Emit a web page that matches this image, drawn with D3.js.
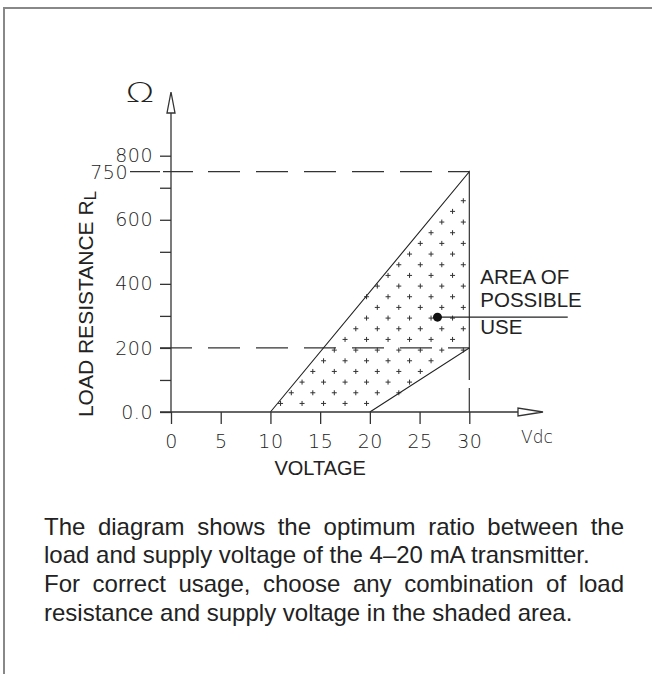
<!DOCTYPE html>
<html>
<head>
<meta charset="utf-8">
<script src="https://cdn.jsdelivr.net/npm/d3@7"></script>
<style>
  body { margin: 0; background: #fff; }
  svg { display: block; }
  .tick text { font-family: "DejaVu Sans", sans-serif; font-size: 19px; font-weight: 200; fill: #222; letter-spacing: 0.5px; }
  .tick line { stroke: #333; stroke-width: 1.3; }
</style>
</head>
<body>
<svg id="chart" width="652" height="674"></svg>
<script>
// values
var voltTicks = [0, 5, 10, 15, 20, 25, 30];
var loadTicks = [0, 100, 200, 300, 400, 500, 600, 700, 800];
var loadLabels = {0: "0.0", 200: "200", 400: "400", 600: "600", 800: "800"};
var areaVolt = [10, 30, 30, 20];
var areaLoad = [0, 750, 200, 0];
var maxLoad = 750, kneeLoad = 200, maxVolt = 30;
var notePoint = [26.8, 296];
var noteLines = ["AREA OF", "POSSIBLE", "USE"];
var textLines = [
  "The diagram shows the optimum ratio between the",
  "load and supply voltage of the 4\u201320 mA transmitter.",
  "For correct usage, choose any combination of load",
  "resistance and supply voltage in the shaded area."
];
var justified = [true, false, true, false];

var svg = d3.select("#chart");

var x = d3.scaleLinear().domain([0, 30]).range([171, 469.3]);
var y = d3.scaleLinear().domain([0, 800]).range([412, 155.7]);

// frame
svg.append("line").attr("x1", 3).attr("x2", 652).attr("y1", 8).attr("y2", 8)
   .attr("stroke", "#888").attr("stroke-width", 2);
svg.append("line").attr("x1", 4).attr("x2", 4).attr("y1", 7).attr("y2", 674)
   .attr("stroke", "#888").attr("stroke-width", 2);

// crosses inside the area
var poly = areaVolt.map(function(v, i){ return [x(v), y(areaLoad[i])]; });
var gx0 = x(maxVolt) - 6, gy0 = y(maxLoad) + 29, gdx = 10.75, gdy = 10.67;
var crosses = [];
for (var m = 0; gy0 + m * gdy < y(0); m++) {
  for (var k = 0; gx0 - k * gdx > x(0); k++) {
    if ((k + m) % 2 !== 0) continue;
    var p = [gx0 - k * gdx, gy0 + m * gdy];
    if (d3.polygonContains(poly, p)) crosses.push(p);
  }
}
svg.append("g").selectAll("path")
   .data(crosses)
   .enter()
   .append("path")
   .attr("d", function(d){ return "M" + (d[0]-2.5) + "," + d[1] + "h5M" + d[0] + "," + (d[1]-2.5) + "v5"; })
   .attr("stroke", "#333")
   .attr("stroke-width", 1);

// dashed guide lines
svg.append("line")
   .attr("x1", 130).attr("x2", x(maxVolt))
   .attr("y1", y(maxLoad)).attr("y2", y(maxLoad))
   .attr("stroke", "#333").attr("stroke-width", 1.2)
   .attr("stroke-dasharray", "30,3,30,15,32,16,32,16,32,16,32,16,32,16,32,16");
svg.append("text")
   .attr("x", 128).attr("y", y(maxLoad)).attr("dy", "0.36em")
   .attr("text-anchor", "end")
   .style("font-family", "DejaVu Sans, sans-serif").style("font-size", "19px")
   .style("font-weight", 200).style("fill", "#222").style("letter-spacing", "0.5px")
   .text(maxLoad);
svg.append("line")
   .attr("x1", x(0) - 11).attr("x2", x(maxVolt))
   .attr("y1", y(kneeLoad)).attr("y2", y(kneeLoad))
   .attr("stroke", "#333").attr("stroke-width", 1.2)
   .attr("stroke-dasharray", "32,16");
svg.append("line")
   .attr("x1", x(maxVolt)).attr("x2", x(maxVolt))
   .attr("y1", y(kneeLoad)).attr("y2", y(0))
   .attr("stroke", "#333").attr("stroke-width", 1.2)
   .attr("stroke-dasharray", "32,8");

// area outline
svg.append("path")
   .attr("d", d3.line()(poly))
   .attr("fill", "none")
   .attr("stroke", "#222")
   .attr("stroke-width", 1.1);

// axes
var yAxis = svg.append("g")
   .attr("transform", "translate(" + x(0) + ",0)")
   .call(d3.axisLeft(y).tickValues(loadTicks).tickSize(11).tickPadding(7)
         .tickFormat(function(d){ return loadLabels[d] || ""; }));
yAxis.select(".domain").remove();

var xAxis = svg.append("g")
   .attr("transform", "translate(0," + y(0) + ")")
   .call(d3.axisBottom(x).tickValues(voltTicks).tickSize(12).tickPadding(11));
xAxis.select(".domain").remove();

svg.append("line").attr("x1", x(0)).attr("x2", x(0)).attr("y1", 113).attr("y2", y(0))
   .attr("stroke", "#333").attr("stroke-width", 1.3);
svg.append("path")
   .attr("d", "M" + x(0) + ",92L" + (x(0)+4) + ",113L" + (x(0)-4) + ",113Z")
   .attr("fill", "#fff").attr("stroke", "#333").attr("stroke-width", 1.3);
svg.append("line").attr("x1", x(0) - 11).attr("x2", 518).attr("y1", y(0)).attr("y2", y(0))
   .attr("stroke", "#333").attr("stroke-width", 1.3);
svg.append("path")
   .attr("d", "M543," + y(0) + "L518," + (y(0)-4) + "L518," + (y(0)+4) + "Z")
   .attr("fill", "#fff").attr("stroke", "#333").attr("stroke-width", 1.3);

// axis titles
svg.append("text")
   .attr("transform", "translate(140,102) scale(1.4,1)")
   .attr("text-anchor", "middle")
   .style("font-family", "DejaVu Sans, sans-serif").style("font-size", "27px")
   .style("font-weight", 200).style("fill", "#222")
   .text("\u03A9");
svg.append("text")
   .attr("x", 521).attr("y", 443)
   .style("font-family", "DejaVu Sans, sans-serif").style("font-size", "17px")
   .style("font-weight", 200).style("fill", "#222")
   .text("Vdc");
svg.append("text")
   .attr("x", x(15)).attr("y", 475)
   .attr("text-anchor", "middle")
   .style("font-family", "Liberation Sans, Arial, sans-serif").style("font-size", "20px")
   .style("fill", "#222")
   .text("VOLTAGE");
var yTitle = svg.append("text")
   .attr("transform", "translate(93,304) rotate(-90)")
   .attr("text-anchor", "middle")
   .style("font-family", "Liberation Sans, Arial, sans-serif").style("font-size", "21px")
   .style("fill", "#222");
yTitle.append("tspan").text("LOAD RESISTANCE R");
yTitle.append("tspan").attr("dy", 3).style("font-size", "17px").text("L");

// annotation
svg.append("line")
   .attr("x1", x(notePoint[0])).attr("x2", x(39.9))
   .attr("y1", y(notePoint[1])).attr("y2", y(notePoint[1]))
   .attr("stroke", "#222").attr("stroke-width", 1.1);
svg.append("circle")
   .attr("cx", x(notePoint[0])).attr("cy", y(notePoint[1])).attr("r", 4.5)
   .attr("fill", "#111");
svg.append("g").selectAll("text")
   .data(noteLines)
   .enter()
   .append("text")
   .attr("x", x(maxVolt) + 11)
   .attr("y", function(d, i){ return [283.5, 306.5, 333.5][i]; })
   .style("font-family", "Liberation Sans, Arial, sans-serif").style("font-size", "20.5px")
   .style("fill", "#222")
   .text(function(d){ return d; });

// caption
var caption = svg.append("g").selectAll("text")
   .data(textLines)
   .enter()
   .append("text")
   .attr("x", 44)
   .attr("y", function(d, i){ return 534.5 + i * 28.7; })
   .style("font-family", "Liberation Sans, Arial, sans-serif").style("font-size", "24px")
   .style("fill", "#222")
   .text(function(d){ return d; });
caption.each(function(d, i){
  if (!justified[i]) return;
  var w = this.getComputedTextLength();
  var gaps = d.split(" ").length - 1;
  d3.select(this).style("word-spacing", ((580 - w) / gaps) + "px");
});
</script>
</body>
</html>
